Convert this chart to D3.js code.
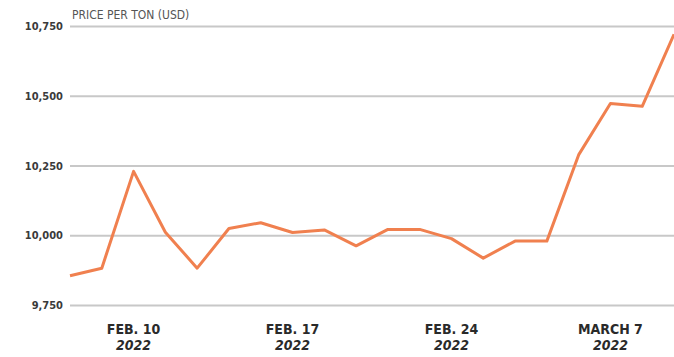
<!DOCTYPE html>
<html><head><meta charset="utf-8">
<script src="https://cdn.jsdelivr.net/npm/d3@7"></script>
<style>body{margin:0;background:#fff}svg{display:block}</style>
</head><body><svg id="c" width="674" height="357"></svg>
<script>
const prices = [9855, 9882, 10229, 10011, 9882, 10024, 10045, 10010, 10019, 9962, 10021, 10021, 9988, 9918, 9979, 9979, 10288, 10472, 10462, 10720];
const yTicks = [9750, 10000, 10250, 10500, 10750];
const xLabelIdx = [2, 7, 12, 17];
const xLabels = [["FEB. 10","2022"],["FEB. 17","2022"],["FEB. 24","2022"],["MARCH 7","2022"]];
const yTitle = "PRICE PER TON (USD)";

const svg = d3.select("#c");
const x = d3.scaleLinear().domain([0, prices.length-1]).range([70, 674]);
const y = d3.scaleLinear().domain([9750, 10750]).range([305, 26]);
const font = "'DejaVu Sans Condensed','DejaVu Sans',sans-serif";

const ya = svg.append("g").attr("transform","translate(70,0)")
  .call(d3.axisLeft(y).tickValues(yTicks).tickSize(-604).tickFormat(d3.format(",")).tickPadding(7));
ya.select(".domain").remove();
ya.selectAll(".tick line").attr("stroke","#c8c8c8").attr("stroke-width",2);
ya.selectAll(".tick text").attr("font-family",font).attr("font-stretch","condensed").attr("font-weight","bold").attr("font-size",11).attr("fill","#3a3a3a");

svg.append("text").attr("x",72).attr("y",19).attr("font-family",font).attr("font-stretch","condensed").attr("font-size",12)
  .attr("fill","#555").text(yTitle);

svg.append("path").datum(prices)
  .attr("fill","none").attr("stroke","#f0804f").attr("stroke-width",3).attr("stroke-linejoin","round")
  .attr("d", d3.line().x((d,i)=>x(i)).y(d=>y(d)));

const xl = svg.append("g");
xLabelIdx.forEach((idx,k)=>{
  xl.append("text").attr("x",x(idx)).attr("y",334).attr("text-anchor","middle")
    .attr("font-family",font).attr("font-stretch","condensed").attr("font-weight","bold").attr("font-size",14).attr("fill","#2a2a2a")
    .text(xLabels[k][0]);
  xl.append("text").attr("x",x(idx)).attr("y",350).attr("text-anchor","middle")
    .attr("font-family",font).attr("font-stretch","condensed").attr("font-weight","bold").attr("font-style","italic").attr("font-size",14).attr("fill","#2a2a2a")
    .text(xLabels[k][1]);
});
</script></body></html>
